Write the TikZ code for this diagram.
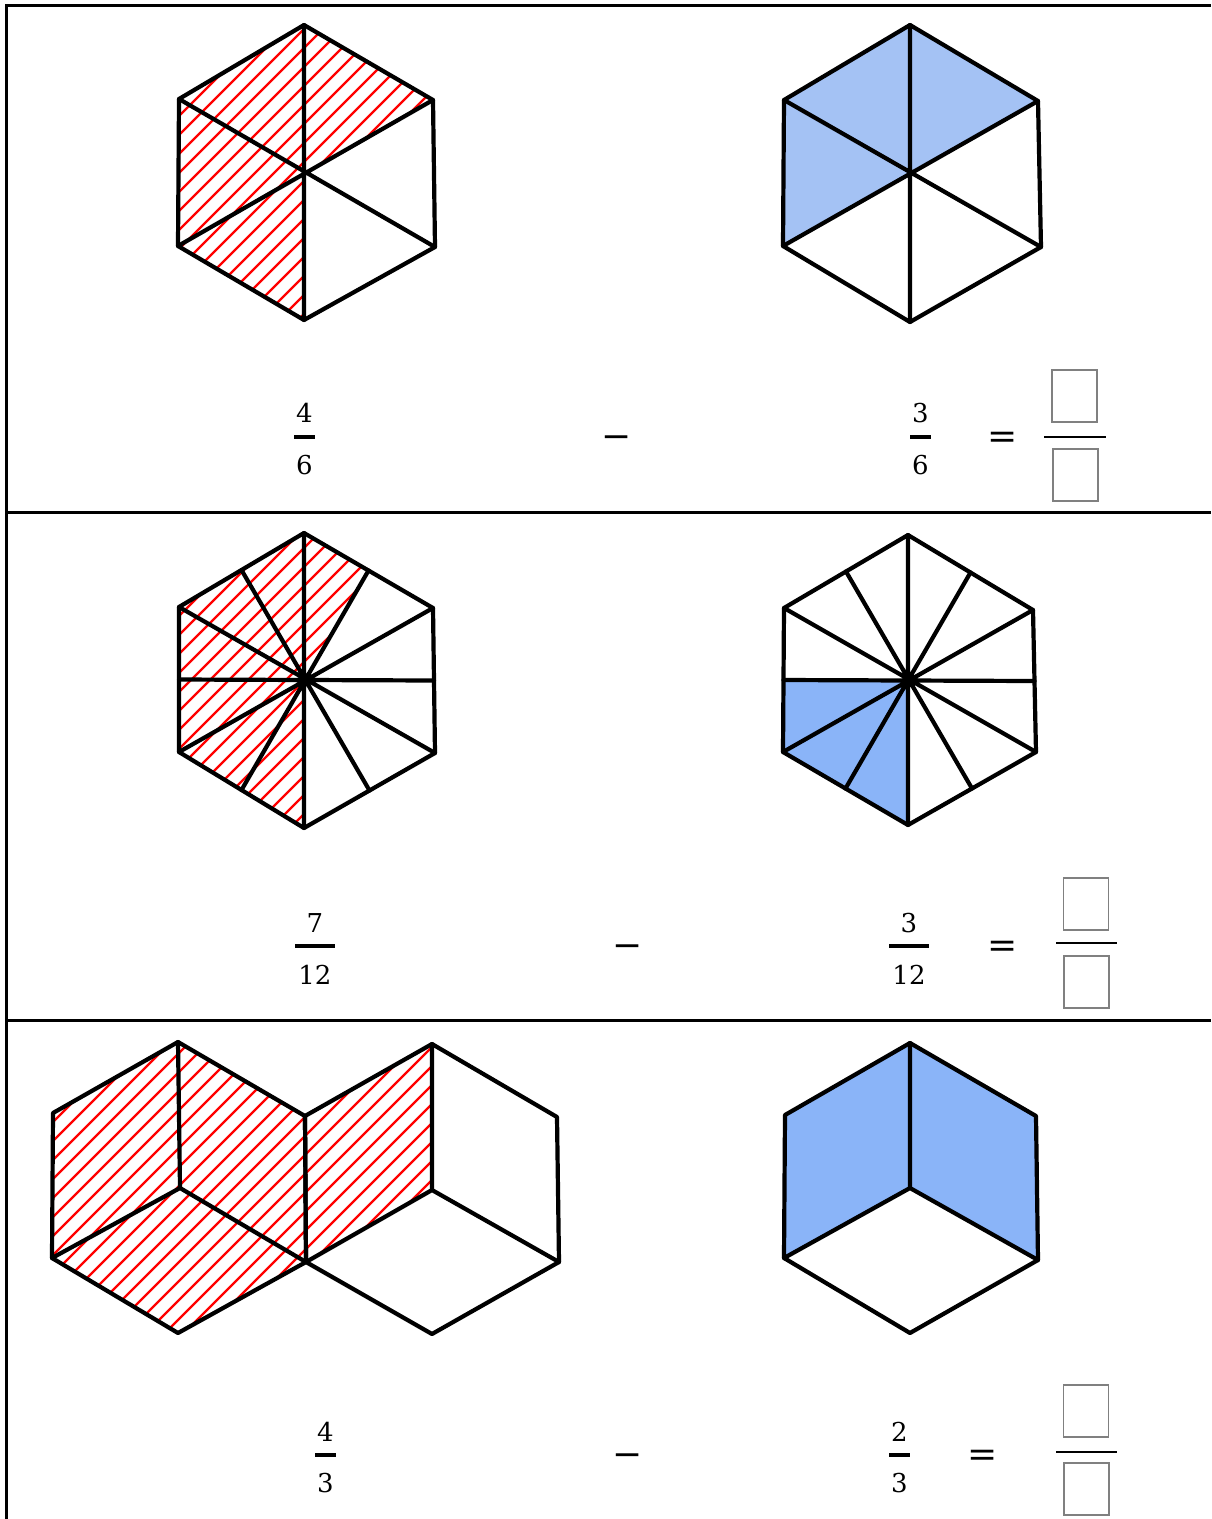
\documentclass[tikz,border=0pt]{standalone}
\usepackage{fontspec}
\newfontfamily\numfont{DejaVu Serif}
\usetikzlibrary{calc}
\definecolor{blueA}{HTML}{A4C2F4}
\definecolor{blueB}{HTML}{8AB4F8}
\definecolor{hatchred}{HTML}{FF0000}
\newcommand{\defhex}[8]{%
  \coordinate (#1t) at (#2);
  \coordinate (#1ul) at (#3);
  \coordinate (#1ll) at (#4);
  \coordinate (#1b) at (#5);
  \coordinate (#1lr) at (#6);
  \coordinate (#1ur) at (#7);
  \coordinate (#1c) at (#8);}
\newcommand{\defmids}[1]{%
  \coordinate (#1mtr) at ($(#1t)!0.5!(#1ur)$);
  \coordinate (#1mr) at ($(#1ur)!0.5!(#1lr)$);
  \coordinate (#1mbr) at ($(#1lr)!0.5!(#1b)$);
  \coordinate (#1mbl) at ($(#1b)!0.5!(#1ll)$);
  \coordinate (#1ml) at ($(#1ll)!0.5!(#1ul)$);
  \coordinate (#1mtl) at ($(#1ul)!0.5!(#1t)$);}
\begin{document}
\begin{tikzpicture}[x=1pt,y=-1pt,
  hexline/.style={line width=4.2pt, line join=round, line cap=round},
  hatchline/.style={hatchred, line width=2.2pt},
  frameline/.style={line width=3pt},
  num/.style={font=\numfont\fontsize{26}{30}\selectfont, anchor=base, inner sep=0pt},
  fracbar/.style={line width=3.5pt},
  opsym/.style={font=\numfont\fontsize{36}{40}\selectfont, anchor=base, inner sep=0pt},
  ansbox/.style={draw=gray, line width=1.5pt, minimum width=45pt, minimum height=52pt, inner sep=0pt},
  ansbar/.style={line width=2.5pt}]
\useasboundingbox (0,0) rectangle (1211,1519);

% frame
\draw[frameline] (6,1519) -- (6,5) -- (1211,5);
\draw[frameline] (6,512) -- (1211,512);
\draw[frameline] (6,1020) -- (1211,1020);

% ---------- hexagon coordinates ----------
\defhex{A}{304,25}{179,99}{178,246}{304,320}{435,247}{433,100}{304,172}
\defhex{B}{910,25}{784,100}{783,246}{910,322}{1041,247}{1038,101}{910,174}
\defhex{C}{304,533}{179,607}{179,752}{304,828}{435,753}{433,608}{304,681}
\defmids{C}
\defhex{D}{908,535}{784,608}{783,752}{908,825}{1036,752}{1033,610}{908,681}
\defmids{D}
\defhex{E}{178,1042}{53,1113}{52,1258}{178,1333}{306,1262}{305,1116}{180,1188}
\defhex{F}{432,1044}{305,1116}{306,1262}{432,1334}{559,1262}{557,1117}{432,1190}
\defhex{G}{910,1043}{785,1115}{784,1258}{910,1333}{1038,1260}{1036,1116}{910,1188}

% ---------- row 1 ----------
\begin{scope}
  \clip (Aur) -- (At) -- (Aul) -- (All) -- (Ab) -- (Ac) -- cycle;
  \foreach \c in {200,219,...,780} \draw[hatchline] (\c,0) -- ({\c-1600},1600);
\end{scope}
\draw[hexline] (At) -- (Aur) -- (Alr) -- (Ab) -- (All) -- (Aul) -- cycle;
\draw[hexline] (At) -- (Ab) (Aul) -- (Alr) (Aur) -- (All);

\fill[blueA] (Bur) -- (Bt) -- (Bul) -- (Bll) -- (Bc) -- cycle;
\draw[hexline] (Bt) -- (Bur) -- (Blr) -- (Bb) -- (Bll) -- (Bul) -- cycle;
\draw[hexline] (Bt) -- (Bb) (Bul) -- (Blr) (Bur) -- (Bll);

% ---------- row 2 ----------
\begin{scope}
  \clip (Cmtr) -- (Ct) -- (Cul) -- (Cll) -- (Cb) -- (Cc) -- cycle;
  \foreach \c in {700,719,...,1290} \draw[hatchline] (\c,0) -- ({\c-1600},1600);
\end{scope}
\draw[hexline] (Ct) -- (Cur) -- (Clr) -- (Cb) -- (Cll) -- (Cul) -- cycle;
\draw[hexline] (Ct) -- (Cb) (Cul) -- (Clr) (Cur) -- (Cll)
  (Cmtr) -- (Cmbl) (Cmr) -- (Cml) (Cmbr) -- (Cmtl);

\fill[blueB] (Dml) -- (Dll) -- (Db) -- (Dc) -- cycle;
\draw[hexline] (Dt) -- (Dur) -- (Dlr) -- (Db) -- (Dll) -- (Dul) -- cycle;
\draw[hexline] (Dt) -- (Db) (Dul) -- (Dlr) (Dur) -- (Dll)
  (Dmtr) -- (Dmbl) (Dmr) -- (Dml) (Dmbr) -- (Dmtl);

% ---------- row 3 ----------
\begin{scope}
  \clip (Et) -- (Eur) -- (Elr) -- (Eb) -- (Ell) -- (Eul) -- cycle;
  \foreach \c in {1080,1099,...,1910} \draw[hatchline] (\c,0) -- ({\c-1600},1600);
\end{scope}
\begin{scope}
  \clip (Ft) -- (Ful) -- (Fll) -- (Fc) -- cycle;
  \foreach \c in {1080,1099,...,1910} \draw[hatchline] (\c,0) -- ({\c-1600},1600);
\end{scope}
\draw[hexline] (Et) -- (Eur) -- (Elr) -- (Eb) -- (Ell) -- (Eul) -- cycle;
\draw[hexline] (Ec) -- (Et) (Ec) -- (Ell) (Ec) -- (Elr);
\draw[hexline] (Ft) -- (Fur) -- (Flr) -- (Fb) -- (Fll) -- (Ful) -- cycle;
\draw[hexline] (Fc) -- (Ft) (Fc) -- (Fll) (Fc) -- (Flr);

\fill[blueB] (Gll) -- (Gul) -- (Gt) -- (Gur) -- (Glr) -- (Gc) -- cycle;
\draw[hexline] (Gt) -- (Gur) -- (Glr) -- (Gb) -- (Gll) -- (Gul) -- cycle;
\draw[hexline] (Gc) -- (Gt) (Gc) -- (Gll) (Gc) -- (Glr);

% ---------- fractions row 1 ----------
\node[num] (n1a) at (304.5,422) {4};
\node[num] (d1a) at (304.5,474) {6};
\coordinate (b1aL) at (294,437); \coordinate (b1aR) at (315,437);
\draw[fracbar] (b1aL) -- (b1aR);
\node[opsym] (m1) at (617,448.5) {−};
\node[num] (n1b) at (920.5,422) {3};
\node[num] (d1b) at (920.5,474) {6};
\coordinate (b1bL) at (910,437); \coordinate (b1bR) at (931,437);
\draw[fracbar] (b1bL) -- (b1bR);
\node[opsym] (e1) at (1003,448.5) {=};
\node[ansbox] (q1n) at (1074.5,396) {};
\node[ansbox] (q1d) at (1075.5,475) {};
\coordinate (q1L) at (1044,437); \coordinate (q1R) at (1106,437);
\draw[ansbar] (q1L) -- (q1R);

% ---------- fractions row 2 ----------
\node[num] (n2a) at (315,932) {7};
\node[num] (d2a) at (315,984) {12};
\coordinate (b2aL) at (295,946); \coordinate (b2aR) at (335,946);
\draw[fracbar] (b2aL) -- (b2aR);
\node[opsym] (m2) at (628,957.5) {−};
\node[num] (n2b) at (909,932) {3};
\node[num] (d2b) at (909,984) {12};
\coordinate (b2bL) at (889,946); \coordinate (b2bR) at (929,946);
\draw[fracbar] (b2bL) -- (b2bR);
\node[opsym] (e2) at (1003,957.5) {=};
\node[ansbox] (q2n) at (1086,904) {};
\node[ansbox] (q2d) at (1086.5,982) {};
\coordinate (q2L) at (1056,943); \coordinate (q2R) at (1117,943);
\draw[ansbar] (q2L) -- (q2R);

% ---------- fractions row 3 ----------
\node[num] (n3a) at (325.5,1441) {4};
\node[num] (d3a) at (325.5,1492) {3};
\coordinate (b3aL) at (315,1455); \coordinate (b3aR) at (336,1455);
\draw[fracbar] (b3aL) -- (b3aR);
\node[opsym] (m3) at (628,1466.5) {−};
\node[num] (n3b) at (899.5,1441) {2};
\node[num] (d3b) at (899.5,1492) {3};
\coordinate (b3bL) at (889,1455); \coordinate (b3bR) at (910,1455);
\draw[fracbar] (b3bL) -- (b3bR);
\node[opsym] (e3) at (983,1466.5) {=};
\node[ansbox] (q3n) at (1086,1411) {};
\node[ansbox] (q3d) at (1086.5,1489) {};
\coordinate (q3L) at (1056,1452); \coordinate (q3R) at (1117,1452);
\draw[ansbar] (q3L) -- (q3R);
\end{tikzpicture}
\end{document}
